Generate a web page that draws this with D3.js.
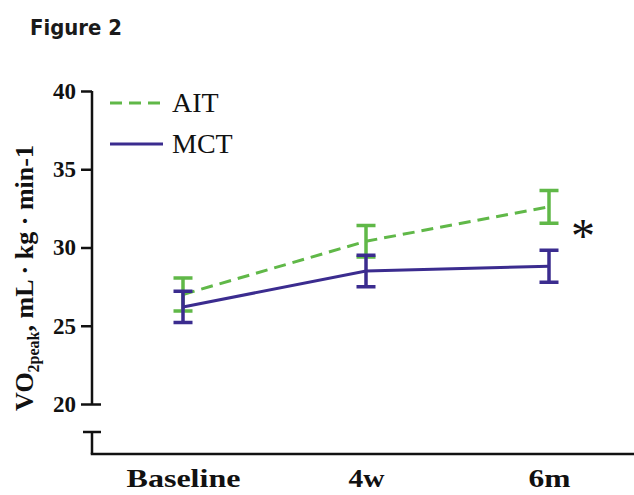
<!DOCTYPE html>
<html><head><meta charset="utf-8">
<script src="https://cdn.jsdelivr.net/npm/d3@7"></script>
<style>html,body{margin:0;padding:0;background:#fff;}svg{display:block;}
.serif{font-family:"Liberation Serif","Times New Roman",Times,serif;}
.sans{font-family:"DejaVu Sans",sans-serif;}</style>
</head><body>
<script>
const categories = ["Baseline", "4w", "6m"];
const aitMean = [27.0, 30.4, 32.6];
const aitErr  = [1.05, 1.0, 1.05];
const mctMean = [26.2, 28.5, 28.8];
const mctErr  = [1.0, 1.0, 1.02];
const yTicks = [20, 25, 30, 35, 40];
const seriesNames = ["AIT", "MCT"];

const W = 634, H = 495;
const green = "#60b848", purple = "#3b2c8f";

const svg = d3.select("body").append("svg").attr("width", W).attr("height", H);

const x = d3.scalePoint().domain(categories).range([183, 549]);
const y = d3.scaleLinear().domain([20, 40]).range([404, 91]);
const axisX = 92;

// Title
svg.append("text").attr("class", "sans").attr("x", 30).attr("y", 35)
  .attr("font-weight", "bold")
  .attr("font-size", 22).attr("textLength", 92).attr("lengthAdjust", "spacingAndGlyphs")
  .attr("fill", "#1a1a1a").text("Figure 2");

// Y axis
const yAxis = d3.axisLeft(y).tickValues(yTicks).tickSize(11).tickPadding(5).tickFormat(d3.format("d"));
const gy = svg.append("g").attr("transform", `translate(${axisX},0)`).call(yAxis);
gy.attr("font-family", null).attr("font-size", null);
gy.select(".domain").attr("d", `M0,${y(40)}V${y(20)}`).attr("stroke", "#111").attr("stroke-width", 2.5);
gy.selectAll(".tick line").attr("stroke", "#111").attr("stroke-width", 2.5);
gy.selectAll(".tick").filter(d => d === 20).select("line").attr("x1", 9);
gy.selectAll(".tick text").attr("class", "serif").attr("font-weight", "bold")
  .attr("font-size", 23).attr("fill", "#111");

// Broken lower axis stub + x axis
svg.append("path").attr("d", `M${axisX - 9},432H${axisX + 9}M${axisX},432V454`)
  .attr("stroke", "#111").attr("stroke-width", 2.5).attr("fill", "none");
const xAxis = d3.axisBottom(x).tickSize(0).tickPadding(15);
const gx = svg.append("g").attr("transform", `translate(0,454)`).call(xAxis);
gx.attr("font-family", null).attr("font-size", null);
gx.select(".domain").attr("d", `M${axisX - 1.25},0H${W}`).attr("stroke", "#111").attr("stroke-width", 2.5);
const xLabLen = {"Baseline": 114, "4w": 36, "6m": 42};
gx.selectAll(".tick text").attr("class", "serif").attr("font-weight", "bold")
  .attr("font-size", 26).attr("fill", "#111")
  .attr("textLength", d => xLabLen[d]).attr("lengthAdjust", "spacingAndGlyphs");

// Y label
const yl = svg.append("text").attr("class", "serif").attr("transform", "translate(33,278) rotate(-90)")
  .attr("text-anchor", "middle").attr("font-weight", "bold")
  .attr("font-size", 26).attr("fill", "#111");
yl.append("tspan").text("VO");
yl.append("tspan").attr("font-size", 16).attr("dy", 6).text("2peak");
yl.append("tspan").attr("dy", -6).text(", mL \u00b7 kg \u00b7 min-1");

// Series
const series = [
  {name: seriesNames[0], mean: aitMean, err: aitErr, color: green, dash: "12,7"},
  {name: seriesNames[1], mean: mctMean, err: mctErr, color: purple, dash: null}
];
const line = d3.line().x((d, i) => x(categories[i])).y(d => y(d));
series.forEach(s => {
  const g = svg.append("g");
  g.append("path").datum(s.mean).attr("d", line).attr("fill", "none")
    .attr("stroke", s.color).attr("stroke-width", 3)
    .attr("stroke-dasharray", s.dash);
  s.mean.forEach((m, i) => {
    const cx = x(categories[i]), t = y(m + s.err[i]), b = y(m - s.err[i]);
    g.append("path").attr("d", `M${cx},${t}V${b}M${cx - 9.5},${t}H${cx + 9.5}M${cx - 9.5},${b}H${cx + 9.5}`)
      .attr("stroke", s.color).attr("stroke-width", 3.5).attr("fill", "none");
  });
});

// Significance asterisk
svg.append("text").attr("class", "serif").attr("x", x(categories[2]) + 34).attr("y", 252)
  .attr("text-anchor", "middle").attr("font-size", 48)
  .attr("fill", "#111").text("*");

// Legend
const leg = svg.append("g");
series.forEach((s, i) => {
  const ly = 103 + i * 41;
  leg.append("line").attr("x1", 110).attr("x2", 163).attr("y1", ly).attr("y2", ly)
    .attr("stroke", s.color).attr("stroke-width", 3).attr("stroke-dasharray", s.dash);
  leg.append("text").attr("class", "serif").attr("x", 172).attr("y", ly + 9)
    .attr("font-size", 28).attr("fill", "#111").text(s.name);
});
</script>
</body></html>
